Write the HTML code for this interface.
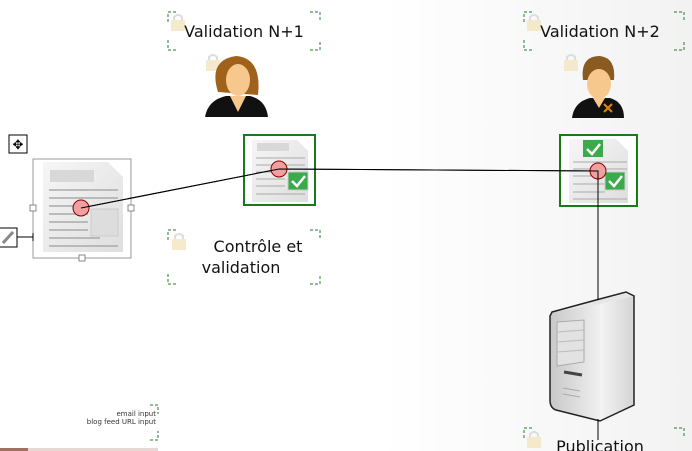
<!DOCTYPE html>
<html><head><meta charset="utf-8"><style>
html,body{margin:0;padding:0;}
body{width:692px;height:451px;overflow:hidden;background:linear-gradient(90deg,#fff 0%,#fff 55%,#f2f2f2 100%);font-family:"DejaVu Sans","Liberation Sans",sans-serif;}
svg{display:block}
</style></head><body>
<svg width="692" height="451" viewBox="0 0 692 451" xmlns="http://www.w3.org/2000/svg">
<defs>
<linearGradient id="pg" x1="0" y1="0" x2="1" y2="1"><stop offset="0" stop-color="#f6f6f6"/><stop offset="1" stop-color="#dedede"/></linearGradient>
<linearGradient id="sv" x1="0" y1="0" x2="1" y2="0"><stop offset="0" stop-color="#c8c8c8"/><stop offset="1" stop-color="#f0f0f0"/></linearGradient>
<linearGradient id="sv2" x1="0" y1="0" x2="1" y2="0"><stop offset="0" stop-color="#f4f4f4"/><stop offset="1" stop-color="#d4d4d4"/></linearGradient>
<g id="lock"><rect x="0" y="5" width="14" height="11" fill="#f3e6bf" opacity="0.8"/><path d="M3 5 V2 Q7 -2 11 2 V5" fill="none" stroke="#ddd" stroke-width="2"/></g>
</defs>

<g fill="none" stroke="#2a7a2a" stroke-dasharray="3,2">
<path d="M168 22 V12 H178 M310 12 H320 V22 M168 40 V50 H178 M310 50 H320 V40"/>
<path d="M524 22 V12 H534 M674 12 H684 V22 M524 40 V50 H534 M674 50 H684 V40"/>
<path d="M168 240 V230 H178 M310 230 H320 V240 M168 274 V284 H178 M310 284 H320 V274"/>
<path d="M524 438 V428 H534 M674 428 H684 V438"/>
<path d="M150 405 H158 V414 M150 440 H158 V431"/>
</g>
<use href="#lock" x="171" y="15"/>
<use href="#lock" x="527" y="15"/>
<use href="#lock" x="206" y="55"/>
<use href="#lock" x="564" y="55"/>
<use href="#lock" x="172" y="234"/>
<use href="#lock" x="527" y="432"/>
<text x="244" y="37" font-size="16" text-anchor="middle" fill="#111">Validation N+1</text>
<text x="600" y="37" font-size="16" text-anchor="middle" fill="#111">Validation N+2</text>
<text x="258" y="252" font-size="16" text-anchor="middle" fill="#111">Contrôle et</text>
<text x="241" y="273" font-size="16" text-anchor="middle" fill="#111">validation</text>
<text x="600" y="452" font-size="16" text-anchor="middle" fill="#111">Publication</text>
<text x="156" y="416" font-size="7" text-anchor="end" fill="#333">email input</text>
<text x="156" y="424" font-size="7" text-anchor="end" fill="#333">blog feed URL input</text>

<!-- woman -->
<path d="M218 92 Q208 60 236 56 Q262 58 258 95 Z" fill="#a0611a"/>
<ellipse cx="238" cy="80" rx="12" ry="16" fill="#f6c88e"/>
<path d="M205 117 Q208 100 226 96 L250 96 Q266 100 268 117 Z" fill="#111"/>
<path d="M230 96 L238 112 L246 96 Z" fill="#f6c88e"/>
<!-- man -->
<path d="M583 80 Q580 56 600 56 Q616 58 614 80 Z" fill="#8a5a20"/>
<ellipse cx="599" cy="84" rx="12" ry="15" fill="#f6c88e"/>
<path d="M572 118 Q574 102 590 98 L610 98 Q624 102 624 118 Z" fill="#111"/>
<path d="M593 98 L599 108 L605 98 Z" fill="#f6c88e"/>
<path d="M604 104 L612 112 M612 104 L604 112" stroke="#d80" stroke-width="2"/>

<!-- left doc selection -->
<rect x="33" y="159" width="98" height="99" fill="none" stroke="#999"/>
<path d="M43 162 H108 L123 177 V252 H43 Z" fill="url(#pg)"/>
<rect x="50" y="170" width="44" height="12" fill="#d8d8d8"/>
<g stroke="#aaa" stroke-width="1.5"><path d="M49 190 H118 M49 198 H118 M49 206 H88 M49 214 H88 M49 222 H88 M49 230 H88 M49 238 H100 M49 246 H118"/></g>
<rect x="91" y="209" width="27" height="27" fill="#ddd" stroke="#ccc"/>
<rect x="30" y="205" width="6" height="6" fill="#fff" stroke="#888"/>
<rect x="128" y="205" width="6" height="6" fill="#fff" stroke="#888"/>
<rect x="79" y="255" width="6" height="6" fill="#fff" stroke="#888"/>
<rect x="9" y="135" width="18" height="18" fill="#fff" stroke="#000"/>
<text x="18" y="149" font-size="13" text-anchor="middle">✥</text>
<rect x="-1" y="228" width="18" height="19" fill="#fff" stroke="#000"/>
<path d="M3 243 L13 232" stroke="#888" stroke-width="3"/>
<path d="M17 237 H33 M33 233 V241" stroke="#000"/>

<!-- doc nodes -->
<rect x="244" y="135" width="71" height="70" fill="#fff" stroke="#1a7a1a" stroke-width="2"/>
<path d="M252 140 H297 L308 151 V202 H252 Z" fill="url(#pg)"/>
<rect x="257" y="143" width="32" height="8" fill="#d8d8d8"/>
<g stroke="#aaa"><path d="M256 158 H305 M256 165 H305 M256 172 H285 M256 179 H285 M256 186 H285 M256 194 H305"/></g>
<rect x="288" y="172" width="20" height="18" fill="#3aaa4a" stroke="#ccc"/>
<path d="M292 181 L297 186 L305 176" stroke="#fff" stroke-width="2.5" fill="none"/>

<rect x="560" y="135" width="77" height="71" fill="#fff" stroke="#1a7a1a" stroke-width="2"/>
<path d="M569 139 H616 L628 151 V203 H569 Z" fill="url(#pg)"/>
<rect x="583" y="140" width="20" height="17" fill="#3aaa4a"/>
<path d="M587 149 L592 154 L600 144" stroke="#fff" stroke-width="2.5" fill="none"/>
<g stroke="#aaa"><path d="M573 162 H627 M573 169 H627 M573 176 H605 M573 184 H605 M573 192 H605 M573 199 H627"/></g>
<rect x="605" y="172" width="20" height="18" fill="#3aaa4a" stroke="#ccc"/>
<path d="M609 181 L614 186 L622 176" stroke="#fff" stroke-width="2.5" fill="none"/>

<!-- server -->
<path d="M600 304 L634 296 V405 L600 421 Z" fill="url(#sv2)"/>
<path d="M552 312 L600 304 V421 L556 410 Q550 408 550 400 V316 Z" fill="url(#sv)"/>
<path d="M552 312 L596 300 L626 292 L634 296 L600 304 Z" fill="#e6e6e6"/>
<path d="M552 312 L596 300 L626 292 L634 296 V405 L600 421 L556 410 Q550 408 550 400 V316 Z" fill="none" stroke="#222" stroke-width="1.5"/>
<path d="M557 322 L584 320 V362 L557 366 Z" fill="#e2e2e2" stroke="#aaa"/>
<g stroke="#bbb"><path d="M557 332 L584 330 M557 342 L584 340 M557 352 L584 350"/></g>
<path d="M564 372 L582 375" stroke="#444" stroke-width="3"/>
<g stroke="#aaa"><path d="M563 388 L580 391 M563 394 L580 397"/></g>

<!-- connectors -->
<path d="M81 208 L279 169 L598 171 L598 300 M598 419 V440" stroke="#000" stroke-width="1" fill="none"/>
<circle cx="81" cy="208" r="8" fill="#f0a0a0" stroke="#800" stroke-width="1"/>
<circle cx="279" cy="169" r="8" fill="#f0a0a0" stroke="#800" stroke-width="1"/>
<circle cx="598" cy="171" r="8" fill="#f0a0a0" stroke="#800" stroke-width="1"/>
<path d="M81 208 L279 169 L598 171 L598 180" stroke="#000" fill="none"/>

<rect x="0" y="448" width="158" height="3" fill="#e8d8d4"/>
<rect x="0" y="448" width="28" height="3" fill="#a07060"/>
</svg>
</body></html>
